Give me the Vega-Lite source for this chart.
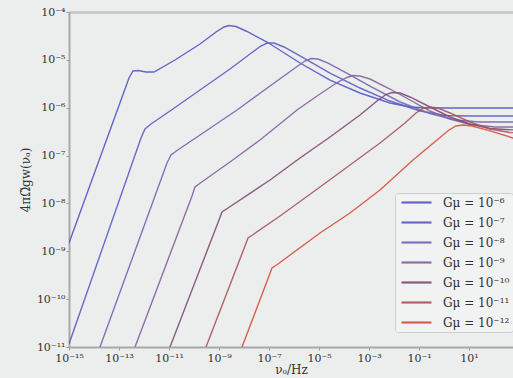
{
  "$schema": "https://vega.github.io/schema/vega-lite/v6.json",
  "width": 444,
  "height": 335,
  "autosize": "none",
  "padding": {"left": 69, "top": 12, "right": 0, "bottom": 31},
  "background": "#eceeed",
  "config": {
    "view": {"stroke": null},
    "font": "DejaVu Serif",
    "axis": {"labelFont": "DejaVu Serif", "titleFont": "DejaVu Serif", "labelColor": "#333333", "titleColor": "#333333", "grid": false},
    "legend": {"labelFont": "DejaVu Serif"}
  },
  "resolve": {"axis": {"x": "independent"}},
  "layer": [
    {
      "data": {"values": []},
      "mark": {"type": "rule"},
      "encoding": {
        "x": {"field": "nu", "type": "quantitative", "scale": {"type": "log", "domain": [1e-15, 575.4]},
          "axis": {"orient": "top", "labels": false, "ticks": false, "title": null, "domainColor": "#c4c4c4", "domainWidth": 2.5}}
      }
    },
    {
      "data": {"values": [
        {"gmu": "Gμ = 10⁻⁶", "nu": 1e-15, "omega": 1.49e-9},
        {"gmu": "Gμ = 10⁻⁶", "nu": 2.512e-13, "omega": 4.18e-6},
        {"gmu": "Gμ = 10⁻⁶", "nu": 3.631e-13, "omega": 5.85e-6},
        {"gmu": "Gμ = 10⁻⁶", "nu": 5.754e-13, "omega": 6.0e-6},
        {"gmu": "Gμ = 10⁻⁶", "nu": 1.202e-12, "omega": 5.57e-6},
        {"gmu": "Gμ = 10⁻⁶", "nu": 2.512e-12, "omega": 5.57e-6},
        {"gmu": "Gμ = 10⁻⁶", "nu": 1.738e-11, "omega": 9.93e-6},
        {"gmu": "Gμ = 10⁻⁶", "nu": 1.738e-10, "omega": 2.143e-5},
        {"gmu": "Gμ = 10⁻⁶", "nu": 7.586e-10, "omega": 3.82e-5},
        {"gmu": "Gμ = 10⁻⁶", "nu": 1.585e-9, "omega": 4.86e-5},
        {"gmu": "Gμ = 10⁻⁶", "nu": 2.512e-9, "omega": 5.22e-5},
        {"gmu": "Gμ = 10⁻⁶", "nu": 4.786e-9, "omega": 4.98e-5},
        {"gmu": "Gμ = 10⁻⁶", "nu": 1.202e-8, "omega": 4.01e-5},
        {"gmu": "Gμ = 10⁻⁶", "nu": 8.318e-8, "omega": 2.36e-5},
        {"gmu": "Gμ = 10⁻⁶", "nu": 1.738e-6, "omega": 8.59e-6},
        {"gmu": "Gμ = 10⁻⁶", "nu": 2.754e-5, "omega": 3.79e-6},
        {"gmu": "Gμ = 10⁻⁶", "nu": 4.365e-4, "omega": 2.03e-6},
        {"gmu": "Gμ = 10⁻⁶", "nu": 6.918e-3, "omega": 1.256e-6},
        {"gmu": "Gμ = 10⁻⁶", "nu": 4.365e-2, "omega": 1.035e-6},
        {"gmu": "Gμ = 10⁻⁶", "nu": 0.2754, "omega": 9.87e-7},
        {"gmu": "Gμ = 10⁻⁶", "nu": 1000, "omega": 9.87e-7},

        {"gmu": "Gμ = 10⁻⁷", "nu": 1e-15, "omega": 1.156e-11},
        {"gmu": "Gμ = 10⁻⁷", "nu": 7.586e-13, "omega": 2.33e-7},
        {"gmu": "Gμ = 10⁻⁷", "nu": 1.096e-12, "omega": 3.59e-7},
        {"gmu": "Gμ = 10⁻⁷", "nu": 1.905e-12, "omega": 4.57e-7},
        {"gmu": "Gμ = 10⁻⁷", "nu": 1.096e-11, "omega": 8.53e-7},
        {"gmu": "Gμ = 10⁻⁷", "nu": 1.738e-10, "omega": 2.344e-6},
        {"gmu": "Gμ = 10⁻⁷", "nu": 2.754e-9, "omega": 6.44e-6},
        {"gmu": "Gμ = 10⁻⁷", "nu": 1.738e-8, "omega": 1.324e-5},
        {"gmu": "Gμ = 10⁻⁷", "nu": 4.365e-8, "omega": 1.90e-5},
        {"gmu": "Gμ = 10⁻⁷", "nu": 8.318e-8, "omega": 2.25e-5},
        {"gmu": "Gμ = 10⁻⁷", "nu": 1.585e-7, "omega": 2.25e-5},
        {"gmu": "Gμ = 10⁻⁷", "nu": 3.981e-7, "omega": 1.858e-5},
        {"gmu": "Gμ = 10⁻⁷", "nu": 1.738e-6, "omega": 1.205e-5},
        {"gmu": "Gμ = 10⁻⁷", "nu": 2.754e-5, "omega": 5.31e-6},
        {"gmu": "Gμ = 10⁻⁷", "nu": 4.365e-4, "omega": 2.58e-6},
        {"gmu": "Gμ = 10⁻⁷", "nu": 6.918e-3, "omega": 1.38e-6},
        {"gmu": "Gμ = 10⁻⁷", "nu": 0.1096, "omega": 8.53e-7},
        {"gmu": "Gμ = 10⁻⁷", "nu": 1.096, "omega": 6.87e-7},
        {"gmu": "Gμ = 10⁻⁷", "nu": 10.96, "omega": 6.71e-7},
        {"gmu": "Gμ = 10⁻⁷", "nu": 1000, "omega": 6.71e-7},

        {"gmu": "Gμ = 10⁻⁸", "nu": 1.738e-14, "omega": 1e-11},
        {"gmu": "Gμ = 10⁻⁸", "nu": 8.318e-12, "omega": 7.0e-8},
        {"gmu": "Gμ = 10⁻⁸", "nu": 1.202e-11, "omega": 1.028e-7},
        {"gmu": "Gμ = 10⁻⁸", "nu": 2.089e-11, "omega": 1.276e-7},
        {"gmu": "Gμ = 10⁻⁸", "nu": 1.738e-10, "omega": 2.69e-7},
        {"gmu": "Gμ = 10⁻⁸", "nu": 5.248e-9, "omega": 8.96e-7},
        {"gmu": "Gμ = 10⁻⁸", "nu": 1.096e-7, "omega": 2.84e-6},
        {"gmu": "Gμ = 10⁻⁸", "nu": 1.096e-6, "omega": 6.76e-6},
        {"gmu": "Gμ = 10⁻⁸", "nu": 2.754e-6, "omega": 9.46e-6},
        {"gmu": "Gμ = 10⁻⁸", "nu": 4.786e-6, "omega": 1.067e-5},
        {"gmu": "Gμ = 10⁻⁸", "nu": 9.12e-6, "omega": 1.042e-5},
        {"gmu": "Gμ = 10⁻⁸", "nu": 2.291e-5, "omega": 8.59e-6},
        {"gmu": "Gμ = 10⁻⁸", "nu": 1.096e-4, "omega": 5.57e-6},
        {"gmu": "Gμ = 10⁻⁸", "nu": 1.096e-3, "omega": 2.84e-6},
        {"gmu": "Gμ = 10⁻⁸", "nu": 1.738e-2, "omega": 1.317e-6},
        {"gmu": "Gμ = 10⁻⁸", "nu": 0.2754, "omega": 7.57e-7},
        {"gmu": "Gμ = 10⁻⁸", "nu": 2.754, "omega": 5.54e-7},
        {"gmu": "Gμ = 10⁻⁸", "nu": 27.54, "omega": 5.03e-7},
        {"gmu": "Gμ = 10⁻⁸", "nu": 1000, "omega": 5.03e-7},

        {"gmu": "Gμ = 10⁻⁹", "nu": 4.365e-13, "omega": 1e-11},
        {"gmu": "Gμ = 10⁻⁹", "nu": 8.318e-11, "omega": 1.429e-8},
        {"gmu": "Gμ = 10⁻⁹", "nu": 1.096e-10, "omega": 2.203e-8},
        {"gmu": "Gμ = 10⁻⁹", "nu": 1.905e-10, "omega": 2.738e-8},
        {"gmu": "Gμ = 10⁻⁹", "nu": 2.754e-9, "omega": 7.34e-8},
        {"gmu": "Gμ = 10⁻⁹", "nu": 4.365e-8, "omega": 2.116e-7},
        {"gmu": "Gμ = 10⁻⁹", "nu": 1.318e-6, "omega": 8.96e-7},
        {"gmu": "Gμ = 10⁻⁹", "nu": 1.096e-5, "omega": 1.936e-6},
        {"gmu": "Gμ = 10⁻⁹", "nu": 5.754e-5, "omega": 3.44e-6},
        {"gmu": "Gμ = 10⁻⁹", "nu": 1.318e-4, "omega": 4.28e-6},
        {"gmu": "Gμ = 10⁻⁹", "nu": 2.291e-4, "omega": 4.71e-6},
        {"gmu": "Gμ = 10⁻⁹", "nu": 4.365e-4, "omega": 4.60e-6},
        {"gmu": "Gμ = 10⁻⁹", "nu": 1.096e-3, "omega": 3.98e-6},
        {"gmu": "Gμ = 10⁻⁹", "nu": 6.918e-3, "omega": 2.46e-6},
        {"gmu": "Gμ = 10⁻⁹", "nu": 4.365e-2, "omega": 1.449e-6},
        {"gmu": "Gμ = 10⁻⁹", "nu": 0.2754, "omega": 8.53e-7},
        {"gmu": "Gμ = 10⁻⁹", "nu": 1.738, "omega": 5.81e-7},
        {"gmu": "Gμ = 10⁻⁹", "nu": 10.96, "omega": 4.46e-7},
        {"gmu": "Gμ = 10⁻⁹", "nu": 109.6, "omega": 3.95e-7},
        {"gmu": "Gμ = 10⁻⁹", "nu": 1000, "omega": 3.95e-7},

        {"gmu": "Gμ = 10⁻¹⁰", "nu": 1.096e-11, "omega": 1e-11},
        {"gmu": "Gμ = 10⁻¹⁰", "nu": 1e-9, "omega": 4.51e-9},
        {"gmu": "Gμ = 10⁻¹⁰", "nu": 1.318e-9, "omega": 6.62e-9},
        {"gmu": "Gμ = 10⁻¹⁰", "nu": 2.291e-9, "omega": 8.04e-9},
        {"gmu": "Gμ = 10⁻¹⁰", "nu": 1.096e-7, "omega": 3.09e-8},
        {"gmu": "Gμ = 10⁻¹⁰", "nu": 1.738e-6, "omega": 8.89e-8},
        {"gmu": "Gμ = 10⁻¹⁰", "nu": 2.754e-5, "omega": 2.445e-7},
        {"gmu": "Gμ = 10⁻¹⁰", "nu": 4.365e-4, "omega": 7.05e-7},
        {"gmu": "Gμ = 10⁻¹⁰", "nu": 2.089e-3, "omega": 1.38e-6},
        {"gmu": "Gμ = 10⁻¹⁰", "nu": 4.786e-3, "omega": 1.888e-6},
        {"gmu": "Gμ = 10⁻¹⁰", "nu": 8.318e-3, "omega": 2.08e-6},
        {"gmu": "Gμ = 10⁻¹⁰", "nu": 1.738e-2, "omega": 2.03e-6},
        {"gmu": "Gμ = 10⁻¹⁰", "nu": 4.365e-2, "omega": 1.675e-6},
        {"gmu": "Gμ = 10⁻¹⁰", "nu": 0.2754, "omega": 1.035e-6},
        {"gmu": "Gμ = 10⁻¹⁰", "nu": 1.738, "omega": 6.40e-7},
        {"gmu": "Gμ = 10⁻¹⁰", "nu": 10.96, "omega": 4.57e-7},
        {"gmu": "Gμ = 10⁻¹⁰", "nu": 69.18, "omega": 3.68e-7},
        {"gmu": "Gμ = 10⁻¹⁰", "nu": 691.8, "omega": 3.42e-7},
        {"gmu": "Gμ = 10⁻¹⁰", "nu": 2000, "omega": 3.42e-7},

        {"gmu": "Gμ = 10⁻¹¹", "nu": 3.02e-10, "omega": 1e-11},
        {"gmu": "Gμ = 10⁻¹¹", "nu": 1.096e-8, "omega": 1.291e-9},
        {"gmu": "Gμ = 10⁻¹¹", "nu": 1.445e-8, "omega": 1.897e-9},
        {"gmu": "Gμ = 10⁻¹¹", "nu": 2.512e-8, "omega": 2.30e-9},
        {"gmu": "Gμ = 10⁻¹¹", "nu": 2.754e-7, "omega": 5.47e-9},
        {"gmu": "Gμ = 10⁻¹¹", "nu": 1.096e-5, "omega": 2.203e-8},
        {"gmu": "Gμ = 10⁻¹¹", "nu": 1.738e-4, "omega": 6.35e-8},
        {"gmu": "Gμ = 10⁻¹¹", "nu": 2.754e-3, "omega": 1.832e-7},
        {"gmu": "Gμ = 10⁻¹¹", "nu": 2.754e-2, "omega": 4.80e-7},
        {"gmu": "Gμ = 10⁻¹¹", "nu": 7.586e-2, "omega": 7.76e-7},
        {"gmu": "Gμ = 10⁻¹¹", "nu": 0.1445, "omega": 9.64e-7},
        {"gmu": "Gμ = 10⁻¹¹", "nu": 0.2754, "omega": 1.035e-6},
        {"gmu": "Gμ = 10⁻¹¹", "nu": 0.5754, "omega": 9.87e-7},
        {"gmu": "Gμ = 10⁻¹¹", "nu": 1.738, "omega": 7.76e-7},
        {"gmu": "Gμ = 10⁻¹¹", "nu": 10.96, "omega": 5.03e-7},
        {"gmu": "Gμ = 10⁻¹¹", "nu": 69.18, "omega": 3.59e-7},
        {"gmu": "Gμ = 10⁻¹¹", "nu": 436.5, "omega": 3.03e-7},
        {"gmu": "Gμ = 10⁻¹¹", "nu": 2000, "omega": 2.96e-7},

        {"gmu": "Gμ = 10⁻¹²", "nu": 8.318e-9, "omega": 1e-11},
        {"gmu": "Gμ = 10⁻¹²", "nu": 1e-7, "omega": 3.05e-10},
        {"gmu": "Gμ = 10⁻¹²", "nu": 1.318e-7, "omega": 4.48e-10},
        {"gmu": "Gμ = 10⁻¹²", "nu": 2.291e-7, "omega": 5.43e-10},
        {"gmu": "Gμ = 10⁻¹²", "nu": 1.096e-5, "omega": 2.41e-9},
        {"gmu": "Gμ = 10⁻¹²", "nu": 1.738e-4, "omega": 6.31e-9},
        {"gmu": "Gμ = 10⁻¹²", "nu": 2.754e-3, "omega": 1.91e-8},
        {"gmu": "Gμ = 10⁻¹²", "nu": 5.754e-2, "omega": 8.09e-8},
        {"gmu": "Gμ = 10⁻¹²", "nu": 0.5248, "omega": 2.116e-7},
        {"gmu": "Gμ = 10⁻¹²", "nu": 1.585, "omega": 3.42e-7},
        {"gmu": "Gμ = 10⁻¹²", "nu": 3.02, "omega": 4.15e-7},
        {"gmu": "Gμ = 10⁻¹²", "nu": 5.754, "omega": 4.36e-7},
        {"gmu": "Gμ = 10⁻¹²", "nu": 13.18, "omega": 4.15e-7},
        {"gmu": "Gμ = 10⁻¹²", "nu": 69.18, "omega": 3.27e-7},
        {"gmu": "Gμ = 10⁻¹²", "nu": 575.4, "omega": 2.33e-7},
        {"gmu": "Gμ = 10⁻¹²", "nu": 2754, "omega": 1.92e-7}
      ]},
      "mark": {"type": "line", "interpolate": "linear", "strokeWidth": 1.4, "clip": true, "opacity": 0.9},
      "encoding": {
        "x": {"field": "nu", "type": "quantitative", "scale": {"type": "log", "domain": [1e-15, 575.4]},
          "axis": {"orient": "bottom", "values": [1e-15, 1e-13, 1e-11, 1e-9, 1e-7, 1e-5, 1e-3, 1e-1, 10, 1000],
            "labelExpr": "['10⁻¹⁵','10⁻¹³','10⁻¹¹','10⁻⁹','10⁻⁷','10⁻⁵','10⁻³','10⁻¹','10¹','10³'][round((log(datum.value)/LN10+15)/2)]",
            "labelFontSize": 11, "labelPadding": 2, "tickSize": 3, "tickColor": "#999999", "domainColor": "#a8a8a8", "domainWidth": 2,
            "title": "νₒ/Hz", "titleFontSize": 12, "titleFontWeight": "normal", "titlePadding": 1, "labelFlush": false, "labelOverlap": false}},
        "y": {"field": "omega", "type": "quantitative", "scale": {"type": "log", "domain": [1e-11, 1e-4]},
          "axis": {"values": [1e-11, 1e-10, 1e-9, 1e-8, 1e-7, 1e-6, 1e-5, 1e-4],
            "labelExpr": "['10⁻¹¹','10⁻¹⁰','10⁻⁹','10⁻⁸','10⁻⁷','10⁻⁶','10⁻⁵','10⁻⁴'][round(log(datum.value)/LN10+11)]",
            "labelFontSize": 11, "labelPadding": 1, "tickSize": 3, "tickColor": "#999999", "domainColor": "#a8a8a8", "domainWidth": 2,
            "title": "4πΩ̃gw(νₒ)", "titleFontSize": 12, "titleFontWeight": "normal", "titlePadding": 4, "labelFlush": false, "labelOverlap": false}},
        "color": {"field": "gmu", "type": "nominal",
          "scale": {"domain": ["Gμ = 10⁻⁶", "Gμ = 10⁻⁷", "Gμ = 10⁻⁸", "Gμ = 10⁻⁹", "Gμ = 10⁻¹⁰", "Gμ = 10⁻¹¹", "Gμ = 10⁻¹²"],
            "range": ["#5256c6", "#5c5cc2", "#7564b4", "#85609e", "#7e4a74", "#a8545e", "#d5503e"]},
          "legend": {"orient": "none", "legendX": 326, "legendY": 181, "title": null,
            "symbolType": "M-3,0H3", "symbolSize": 100, "symbolStrokeWidth": 2.2, "symbolOffset": 12,
            "labelFontSize": 12, "labelOffset": 20, "labelColor": "#333333", "padding": 3, "rowPadding": 7,
            "strokeColor": "#cfcfcf", "fillColor": "#f1f2f2", "cornerRadius": 3}}
      }
    }
  ]
}
